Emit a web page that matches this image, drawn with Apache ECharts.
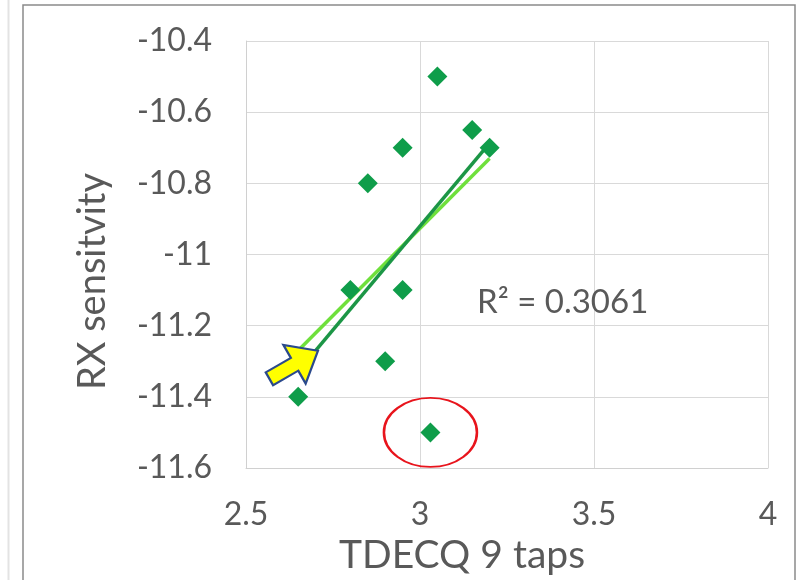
<!DOCTYPE html>
<html>
<head>
<meta charset="utf-8">
<title>RX sensitivity vs TDECQ</title>
<script src="https://cdn.jsdelivr.net/npm/echarts@6/dist/echarts.min.js"></script>
<style>
  html, body { margin: 0; padding: 0; background: #ffffff; }
  #chart { width: 806px; height: 580px; }
</style>
</head>
<body>
<div id="chart"></div>
<script>
// Measured samples: TDECQ (9-tap equaliser) vs. receiver sensitivity
const tdecq = [3.05, 3.15, 3.2, 2.95, 2.85, 2.8, 2.95, 2.9, 2.65, 3.03];
const rxSensitivity = [-10.5, -10.65, -10.7, -10.7, -10.8, -11.1, -11.1, -11.3, -11.4, -11.5];

// Axis ticks
const xTicks = [2.5, 3, 3.5, 4];
const yTicks = [-11.6, -11.4, -11.2, -11, -10.8, -10.6, -10.4];

// Second (hand-placed) fit line, end points in data units
const altFitX = [2.65, 3.2];
const altFitY = [-11.27, -10.73];

// Reported coefficient of determination
const rSquared = 0.3061;

// Index of the sample flagged as an outlier
const outlierIndex = 9;

// Where the call-out arrow sits (data units)
const arrowAt = [2.637, -11.31];
// Where the R² note sits (data units)
const noteAt = [3.41, -11.135];

const points = tdecq.map((x, i) => [x, rxSensitivity[i]]);

// Least-squares trend line over the sampled TDECQ range
function linearFit(xs, ys) {
  const n = xs.length;
  const mx = xs.reduce((a, b) => a + b, 0) / n;
  const my = ys.reduce((a, b) => a + b, 0) / n;
  let sxy = 0, sxx = 0;
  for (let i = 0; i < n; i++) {
    sxy += (xs[i] - mx) * (ys[i] - my);
    sxx += (xs[i] - mx) * (xs[i] - mx);
  }
  const slope = sxy / sxx;
  return x => my + slope * (x - mx);
}
const fit = linearFit(tdecq, rxSensitivity);
const xMin = Math.min(...tdecq), xMax = Math.max(...tdecq);
const trend = [[xMin, fit(xMin)], [xMax, fit(xMax)]];
const altFit = altFitX.map((x, i) => [x, altFitY[i]]);

const textColor = '#595959';
const fontFamily = 'Lato, "Noto Sans", sans-serif';

const chart = echarts.init(document.getElementById('chart'), null, { renderer: 'canvas' });

chart.setOption({
  animation: false,
  backgroundColor: '#ffffff',
  textStyle: { fontFamily: fontFamily },
  graphic: [
    { type: 'line', shape: { x1: 8.5, y1: 0, x2: 8.5, y2: 580 }, style: { stroke: '#e3e3e3', lineWidth: 2 }, silent: true },
    { type: 'rect', shape: { x: 23, y: 5, width: 772, height: 600 }, style: { fill: 'none', stroke: '#8a8a8a', lineWidth: 1.5 }, silent: true }
  ],
  grid: { left: 246, top: 41, right: 38, bottom: 112, containLabel: false },
  xAxis: {
    type: 'value',
    min: xTicks[0],
    max: xTicks[xTicks.length - 1],
    interval: 0.5,
    name: 'TDECQ 9 taps',
    nameLocation: 'middle',
    nameGap: 59,
    nameTextStyle: { color: textColor, fontSize: 39, fontFamily: fontFamily, padding: [0, 90, 0, 0] },
    axisLine: { show: true, lineStyle: { color: '#d0d0d0', width: 1 } },
    axisTick: { show: false },
    axisLabel: { color: textColor, fontSize: 32, margin: 31, fontFamily: fontFamily },
    splitLine: { show: true, lineStyle: { color: '#d9d9d9', width: 1 } }
  },
  yAxis: {
    type: 'value',
    min: yTicks[0],
    max: yTicks[yTicks.length - 1],
    interval: 0.2,
    name: 'RX sensitvity',
    nameLocation: 'middle',
    nameGap: 134,
    nameTextStyle: { color: textColor, fontSize: 38, fontFamily: fontFamily, padding: [0, 54, 0, 0] },
    axisLine: { show: true, lineStyle: { color: '#d0d0d0', width: 1 } },
    axisTick: { show: false },
    axisLabel: { color: textColor, fontSize: 32, margin: 34, fontFamily: fontFamily,
      formatter: v => String(Math.round(v * 10) / 10) },
    splitLine: { show: true, lineStyle: { color: '#d9d9d9', width: 1 } }
  },
  series: [
    {
      name: 'alt fit',
      type: 'line',
      data: altFit,
      showSymbol: false,
      symbol: 'none',
      lineStyle: { color: '#6fe03c', width: 3.5 },
      z: 2
    },
    {
      name: 'trend',
      type: 'line',
      data: trend,
      showSymbol: false,
      symbol: 'none',
      lineStyle: { color: '#1c9646', width: 3.5 },
      z: 3
    },
    {
      name: 'samples',
      type: 'scatter',
      data: points,
      symbol: 'diamond',
      symbolSize: 20,
      itemStyle: { color: '#0f9d4a', opacity: 1 },
      z: 4,
      markPoint: {
        silent: true,
        animation: false,
        data: [
          {
            coord: points[outlierIndex],
            symbol: 'circle',
            symbolSize: [93, 69],
            itemStyle: { color: 'rgba(0,0,0,0)', borderColor: '#e8141c', borderWidth: 2.2 },
            label: { show: false }
          },
          {
            coord: arrowAt,
            symbol: 'path://M0,-8 L28,-8 L28,-24 L54,0 L28,24 L28,8 L0,8 Z',
            symbolSize: [56, 50],
            symbolRotate: 30,
            symbolKeepAspect: true,
            itemStyle: { color: '#ffff00', borderColor: '#2b4a8c', borderWidth: 2.2 },
            label: { show: false }
          },
          {
            coord: noteAt,
            symbol: 'circle',
            symbolSize: 1,
            itemStyle: { color: 'rgba(0,0,0,0)' },
            label: {
              show: true,
              position: 'inside',
              formatter: 'R\u00B2 = ' + rSquared.toFixed(4),
              color: textColor,
              fontSize: 33,
              fontFamily: fontFamily
            }
          }
        ]
      }
    }
  ]
});
</script>
</body>
</html>
